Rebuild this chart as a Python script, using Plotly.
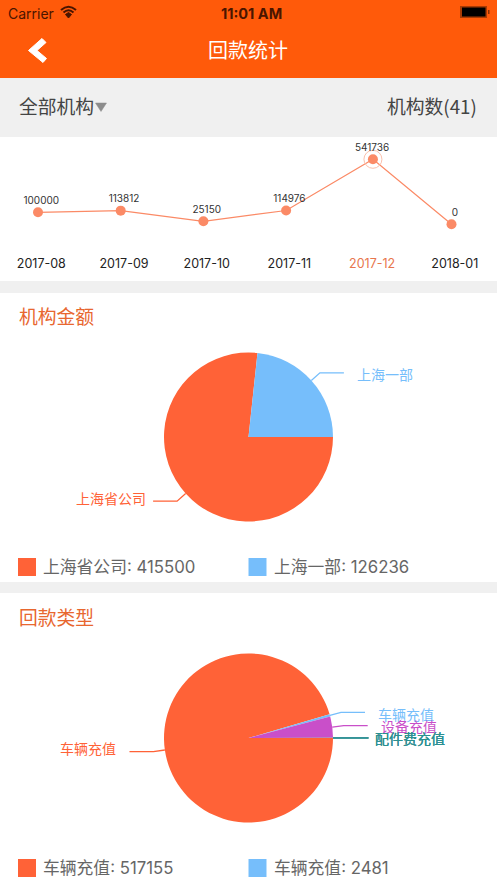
import math
from plotly.graph_objects import Figure, Pie, Scatter

WIDTH = 497
HEIGHT = 883
LATIN = "Inter, 'Noto Sans CJK SC', sans-serif"
CJK = "'Noto Sans CJK SC', sans-serif"

months = ['2017-08', '2017-09', '2017-10', '2017-11', '2017-12', '2018-01']
month_slot = [0, 1, 2, 3, 4.05, 5]
amounts = [100000, 113812, 25150, 114976, 541736, 0]
selected_month = 4

org_names = ['上海省公司', '上海一部']
org_values = [415500, 126236]
org_colors = ['#FF6237', '#76BEFB']

type_names = ['车辆充值', '车辆充值', '设备充值', '配件费充值', '配件费充值', '配件费充值']
type_values = [517155, 2481, 21900, 100, 60, 40]
type_colors = ['#FF6237', '#76BEFB', '#C94FC9', '#62B26A', '#4A8FC0', '#2A9090']

ACCENT = '#FB8A66'


def px(x):
    return x / WIDTH


def py(y):
    return 1 - y / HEIGHT


def label(fig, x, y, text, size, color, anchor='left', family=LATIN):
    # the CJK font sits a little low in its line box
    if family == CJK:
        y -= 1.5
    fig.add_annotation(
        x=px(x), y=py(y), xref='paper', yref='paper', text=text, showarrow=False,
        xanchor=anchor, yanchor='middle', font=dict(size=size, color=color, family=family),
        borderpad=0, borderwidth=0
    )


def rect(fig, x0, y0, x1, y1, color, layer='below'):
    fig.add_shape(
        type='rect', xref='paper', yref='paper', x0=px(x0), x1=px(x1), y0=py(y0), y1=py(y1),
        fillcolor=color, line_width=0, layer=layer
    )


def path(fig, points, color, width=1.0, fill=None):
    d = 'M ' + ' L '.join(f'{px(x):.5f},{py(y):.5f}' for x, y in points)
    if fill:
        d += ' Z'
    fig.add_shape(
        type='path', xref='paper', yref='paper', path=d, layer='above',
        line=dict(color=color, width=width), fillcolor=fill
    )


def curve(fig, start, control, end, color, width):
    d = (f'M {px(start[0]):.5f},{py(start[1]):.5f} '
         f'Q {px(control[0]):.5f},{py(control[1]):.5f} {px(end[0]):.5f},{py(end[1]):.5f}')
    fig.add_shape(
        type='path', xref='paper', yref='paper', path=d, layer='above',
        line=dict(color=color, width=width)
    )


def add_pie(fig, cx, cy, r, names, values, colors, label_x, label_y):
    fig.add_trace(Pie(
        labels=[f'{n} {i}' for i, n in enumerate(names)], values=values, sort=False,
        direction='clockwise', rotation=90, textinfo='none', showlegend=False,
        marker=dict(colors=colors, line=dict(width=0)),
        domain=dict(x=[px(cx - r), px(cx + r)], y=[py(cy + r), py(cy - r)])
    ))
    # leader lines follow each slice's middle angle
    total = sum(values)
    start = 90
    for name, value, color, lx, ly in zip(names, values, colors, label_x, label_y):
        mid = math.radians(start + value / total * 180)
        start += value / total * 360
        sx, cs = math.sin(mid), math.cos(mid)
        side = 1 if sx >= 0 else -1
        elbow = (cx + (r + 11.5) * sx, cy - (r + 11.5) * cs)
        path(fig, [(cx + r * sx, cy - r * cs), elbow, (elbow[0] + side * 24, elbow[1])], color, 1.3)
        label(fig, lx, ly, name, 14, color, 'left' if side > 0 else 'right', CJK)


def add_legend(fig, y, names, values, colors):
    for x, name, value, color in zip([18, 248.5], names, values, colors):
        rect(fig, x, y - 9, x + 18, y + 9, color)
        label(fig, x + 25, y, f'{name}: {value}', 16.8, '#666666')


fig = Figure()

# page furniture
rect(fig, 0, 0, WIDTH, 78, '#FF5A0A')
rect(fig, 0, 78, WIDTH, 137, '#F0F0F0')
rect(fig, 0, 281, WIDTH, 293, '#F0F0F0')
rect(fig, 0, 582, WIDTH, 593, '#F0F0F0')

label(fig, 8, 13, 'Carrier', 14, '#4A1500')
label(fig, 251, 13, '<b>11:01 AM</b>', 14.5, '#4A1500', 'center')
curve(fig, (61, 10), (68.5, 3.5), (76, 10), '#4A1500', 2)
curve(fig, (63.5, 12.5), (68.5, 8), (73.5, 12.5), '#4A1500', 2)
path(fig, [(65.5, 14.5), (68.5, 12.5), (71.5, 14.5), (68.5, 18)], '#4A1500', 1, '#4A1500')
rect(fig, 460, 6, 487, 18, '#A83B05', 'above')
rect(fig, 462, 7.5, 485.5, 16.5, '#000000', 'above')
rect(fig, 488, 10, 489.5, 14, '#8A3005', 'above')

path(fig, [(42, 38.5), (46, 42.5), (37, 50.5), (46.5, 58.5), (43, 62.5), (28.5, 50.5)], '#FFFFFF', 1, '#FFFFFF')
label(fig, 248, 51, '回款统计', 20, '#FFFFFF', 'center', CJK)

label(fig, 18.5, 107, '全部机构', 18.8, '#444444', 'left', CJK)
path(fig, [(95.5, 103), (106.5, 103), (101, 111.5)], '#8C8C8C', 0.5, '#8C8C8C')
label(fig, 477, 107, '机构数(41)', 18.8, '#444444', 'right', CJK)
label(fig, 18.5, 317, '机构金额', 18.8, '#E8672F', 'left', CJK)
label(fig, 18.5, 618, '回款类型', 18.8, '#E8672F', 'left', CJK)

# trend line
fig.add_trace(Scatter(
    x=month_slot, y=amounts, mode='lines+markers', showlegend=False, cliponaxis=False,
    line=dict(color=ACCENT, width=1.2), marker=dict(color=ACCENT, size=10)
))
fig.add_trace(Scatter(
    x=[month_slot[selected_month]], y=[amounts[selected_month]], mode='markers', showlegend=False,
    cliponaxis=False, marker=dict(symbol='circle-open', color='#FBC0AC', size=18, line=dict(width=1))
))
# value labels sit on the tick label centres, a little right of the points
label_slot = [i + 0.04 for i in range(len(months))]
fig.add_trace(Scatter(
    x=label_slot, y=amounts, mode='markers+text', text=[str(v) for v in amounts],
    textposition='top center', showlegend=False, cliponaxis=False,
    textfont=dict(size=10, color='#333333', family=LATIN),
    marker=dict(size=8, color='rgba(0,0,0,0)')
))

tick_text = [
    f'<span style="color:#E8764D">{m}</span>' if i == selected_month else m
    for i, m in enumerate(months)
]
fig.update_xaxes(
    domain=[px(4.92), px(484.58)], range=[-0.4, 5.4], tickvals=label_slot, ticktext=tick_text,
    showgrid=False, zeroline=False, showline=False, ticks='', automargin=False,
    tickfont=dict(size=12.5, color='#222222', family=LATIN)
)
fig.update_yaxes(
    domain=[py(254), py(140)], range=[-247500, 702500], visible=False, showgrid=False,
    zeroline=False, automargin=False
)

add_pie(fig, 248.5, 437, 84.5, org_names, org_values, org_colors, [146, 357], [499, 375.5])
add_legend(fig, 567, org_names, org_values, org_colors)

add_pie(fig, 248.5, 738, 84.5, type_names, type_values, type_colors,
        [116, 378, 381, 375, 375, 375], [749, 715, 727, 739, 739, 739])
add_legend(fig, 868, type_names[:2], type_values[:2], type_colors[:2])

fig.update_layout(
    template='none', width=WIDTH, height=HEIGHT, margin=dict(l=0, r=0, t=0, b=0, pad=0),
    paper_bgcolor='#FFFFFF', plot_bgcolor='rgba(0,0,0,0)', hovermode=False
)
fig.write_html(
    "out.html", config=dict(displayModeBar=False),
    post_script="document.body.style.margin='0';document.body.style.overflow='hidden';"
)
